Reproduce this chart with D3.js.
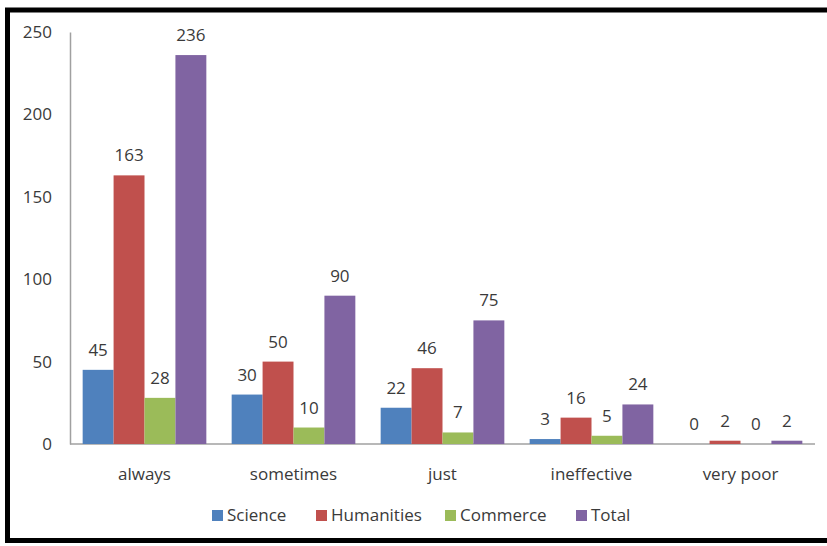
<!DOCTYPE html>
<html lang="en">
<head>
  <meta charset="UTF-8">
  <title>Responses by stream</title>
  <script src="https://d3js.org/d3.v7.min.js"></script>
  <style>
    body { margin: 0; background: #fff; }
    text { font-family: "Open Sans", "Liberation Sans", sans-serif; fill: #3a3a3a; }
    .axis path, .axis line { stroke: #a0a0a0; }
  </style>
</head>
<body>
<div id="chart"></div>
<script>
  // chart data
  const categories = ["always", "sometimes", "just", "ineffective", "very poor"];
  const seriesNames = ["Science", "Humanities", "Commerce", "Total"];
  const science = [45, 30, 22, 3, 0];
  const humanities = [163, 50, 46, 16, 2];
  const commerce = [28, 10, 7, 5, 0];
  const total = [236, 90, 75, 24, 2];
  const yTicks = [0, 50, 100, 150, 200, 250];
  const colors = ["#4f81bd", "#c0504d", "#9bbb59", "#8064a2"];

  const seriesValues = [science, humanities, commerce, total];
  const width = 827, height = 546;

  const svg = d3.select("#chart").append("svg")
    .attr("width", width)
    .attr("height", height);

  // outer frame (right edge runs off the picture)
  svg.append("path")
    .attr("d", "M830,10 H7.5 V540.5 H830")
    .attr("fill", "none")
    .attr("stroke", "#000")
    .attr("stroke-width", 5);

  const x0 = d3.scaleBand().domain(categories).range([70, 815]).paddingInner(0.17).paddingOuter(0.085);
  const x1 = d3.scaleBand().domain(seriesNames).range([0, x0.bandwidth()]);
  const y = d3.scaleLinear().domain([0, 250]).range([444, 32]);

  // y axis
  const yAxis = svg.append("g")
    .attr("class", "axis")
    .attr("transform", "translate(70,0)")
    .call(d3.axisLeft(y).tickValues(yTicks).tickSize(0).tickPadding(18));
  yAxis.selectAll("text").style("font-size", "17px");
  yAxis.select(".domain").attr("stroke-width", 1.5);

  // x axis line
  svg.append("line")
    .attr("x1", 70).attr("x2", 815)
    .attr("y1", y(0)).attr("y2", y(0))
    .attr("stroke", "#a0a0a0").attr("stroke-width", 1.5);

  // category labels
  svg.selectAll(".cat")
    .data(categories)
    .enter().append("text")
    .attr("class", "cat")
    .attr("x", d => x0(d) + x0.bandwidth() / 2)
    .attr("y", 480)
    .attr("text-anchor", "middle")
    .style("font-size", "17px")
    .text(d => d);

  // bars
  const groups = svg.selectAll(".grp")
    .data(categories)
    .enter().append("g")
    .attr("class", "grp")
    .attr("transform", d => "translate(" + x0(d) + ",0)");

  groups.selectAll("rect")
    .data((d, i) => seriesNames.map((s, j) => ({ s: s, v: seriesValues[j][i], c: colors[j] })))
    .enter().append("rect")
    .attr("x", d => x1(d.s))
    .attr("y", d => y(d.v))
    .attr("width", x1.bandwidth())
    .attr("height", d => y(0) - y(d.v))
    .attr("fill", d => d.c);

  groups.selectAll(".val")
    .data((d, i) => seriesNames.map((s, j) => ({ s: s, v: seriesValues[j][i] })))
    .enter().append("text")
    .attr("class", "val")
    .attr("x", d => x1(d.s) + x1.bandwidth() / 2)
    .attr("y", d => y(d.v) - 14)
    .attr("text-anchor", "middle")
    .style("font-size", "17px")
    .text(d => d.v);

  // legend
  const legendX = [212, 316, 445, 576];
  const legend = svg.selectAll(".leg")
    .data(seriesNames)
    .enter().append("g")
    .attr("class", "leg")
    .attr("transform", (d, i) => "translate(" + legendX[i] + ",515)");
  legend.append("rect")
    .attr("x", 0).attr("y", -5)
    .attr("width", 11).attr("height", 11)
    .attr("fill", (d, i) => colors[i]);
  legend.append("text")
    .attr("x", 15).attr("y", 6)
    .style("font-size", "17px")
    .text(d => d);
</script>
</body>
</html>
